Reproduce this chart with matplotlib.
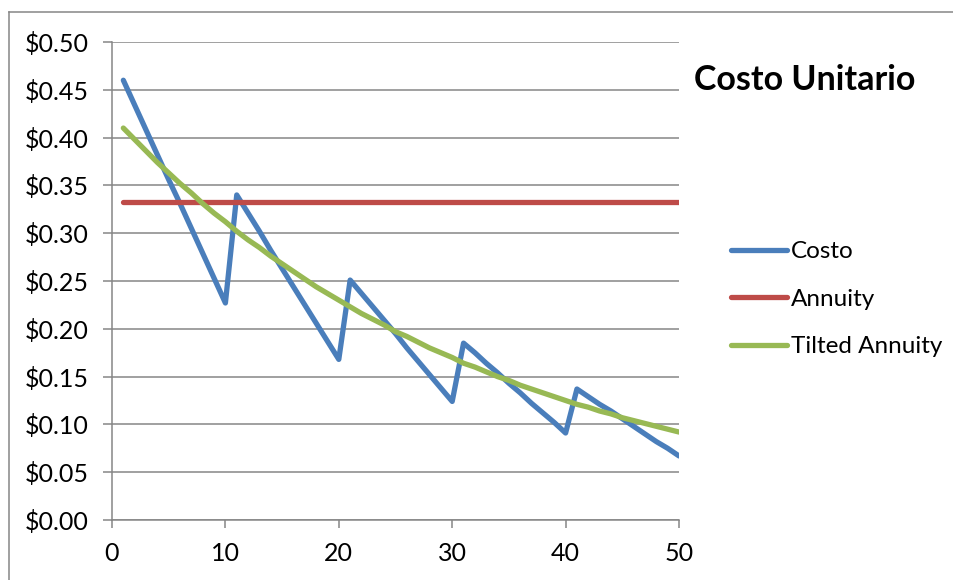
import matplotlib
matplotlib.use("Agg")
import matplotlib.pyplot as plt
from matplotlib.lines import Line2D
from matplotlib.ticker import FuncFormatter, MultipleLocator

plt.rcParams['font.family'] = ['Lato', 'DejaVu Sans']

years = list(range(1, 51))
costo = [0.460, 0.434, 0.408, 0.382, 0.356, 0.331, 0.305, 0.279, 0.253, 0.227,
         0.340, 0.321, 0.302, 0.282, 0.263, 0.244, 0.225, 0.206, 0.187, 0.168,
         0.251, 0.237, 0.223, 0.209, 0.195, 0.180, 0.166, 0.152, 0.138, 0.124,
         0.185, 0.175, 0.164, 0.154, 0.143, 0.133, 0.122, 0.112, 0.102, 0.091,
         0.137, 0.129, 0.121, 0.114, 0.106, 0.098, 0.090, 0.082, 0.075, 0.067]
annuity = [0.333] * 50
tilted = [0.410, 0.398, 0.386, 0.374, 0.363, 0.352, 0.342, 0.331, 0.321, 0.312,
          0.302, 0.293, 0.285, 0.276, 0.268, 0.260, 0.252, 0.244, 0.237, 0.230,
          0.223, 0.216, 0.210, 0.204, 0.197, 0.192, 0.186, 0.180, 0.175, 0.170,
          0.164, 0.160, 0.155, 0.150, 0.146, 0.141, 0.137, 0.133, 0.129, 0.125,
          0.121, 0.118, 0.114, 0.111, 0.107, 0.104, 0.101, 0.098, 0.095, 0.092]
series_names = ["Costo", "Annuity", "Tilted Annuity"]
colors = ["#4A7EBB", "#BE4B48", "#98B954"]
title = "Costo Unitario"

W, H = 954, 580
fig = plt.figure(figsize=(W / 100, H / 100), dpi=100)
ax = fig.add_axes([112 / W, 1 - 520 / H, (679 - 112) / W, (520 - 42) / H])

for data, name, c in zip([costo, annuity, tilted], series_names, colors):
    ax.plot(years, data, color=c, lw=3.8, label=name,
            solid_capstyle='round', solid_joinstyle='round', zorder=3)

grid_c = "#868686"
ax.set_xlim(0, 50)
ax.set_ylim(0, 0.5)
ax.xaxis.set_major_locator(MultipleLocator(10))
ax.yaxis.set_major_locator(MultipleLocator(0.05))
ax.yaxis.set_major_formatter(FuncFormatter(lambda v, p: f"${v:.2f}"))
ax.grid(axis='y', color=grid_c, lw=1.1, zorder=1)
ax.grid(axis='x', visible=False)
for s in ['top', 'right']:
    ax.spines[s].set_visible(False)
for s in ['left', 'bottom']:
    ax.spines[s].set_color(grid_c)
    ax.spines[s].set_linewidth(1.1)
ax.tick_params(axis='y', length=6.5, width=1.1, color=grid_c, pad=10, labelsize=18)
ax.tick_params(axis='x', length=6, width=1.1, color=grid_c, pad=10, labelsize=18)
ax.set_facecolor('white')

fig.text(694 / W, 1 - 80 / H, title, fontsize=24.5, fontweight='bold',
         ha='left', va='center')

ax.legend(loc='upper left', bbox_to_anchor=(731 / W, 1 - 241 / H),
          bbox_transform=fig.transFigure, frameon=False, fontsize=17.5,
          handlelength=2.3, handletextpad=0.16, labelspacing=1.09,
          borderaxespad=0, borderpad=0)

# outer chart border (left and top edges visible)
fig.add_artist(Line2D([9 / W, 9 / W], [-0.05, 1 - 12 / H], transform=fig.transFigure,
                      color=grid_c, lw=1.1))
fig.add_artist(Line2D([9 / W, 1.05], [1 - 12 / H, 1 - 12 / H], transform=fig.transFigure,
                      color=grid_c, lw=1.1))

fig.savefig("out.png", dpi=100, facecolor='white')
